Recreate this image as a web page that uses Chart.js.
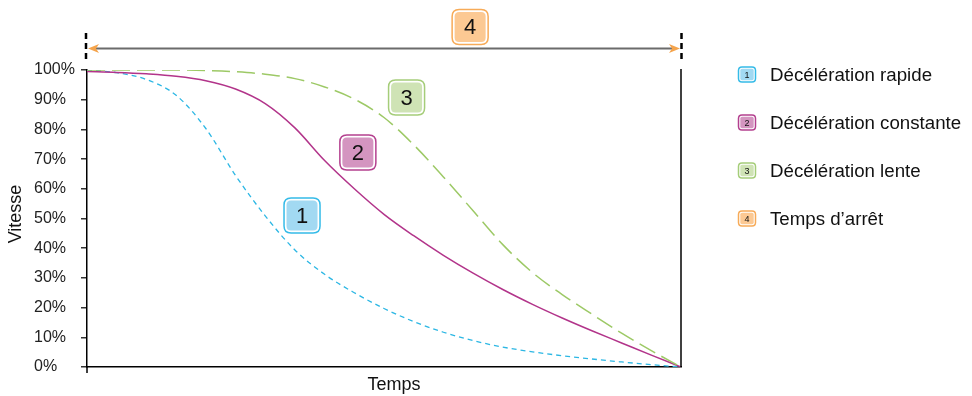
<!DOCTYPE html>
<html>
<head>
<meta charset="utf-8">
<script src="https://cdn.jsdelivr.net/npm/chart.js@4.4.0/dist/chart.umd.min.js"></script>
<style>
html, body { margin: 0; padding: 0; background: #ffffff; }
#wrap { width: 972px; height: 396px; position: relative; }
</style>
</head>
<body>
<div id="wrap"><canvas id="c" width="972" height="396"></canvas></div>
<script>
// ---- Data ----
const timePoints    = [0, 5, 10, 15, 20, 25, 30, 35, 40, 45, 50, 55, 60, 65, 70, 75, 80, 85, 90, 95, 100];
const fastDecel     = [100, 99.1, 96.8, 91.5, 80.3, 64.5, 50.9, 39.4, 31.2, 25.0, 19.7, 15.3, 11.7, 8.9, 6.7, 5.1, 3.8, 2.7, 1.7, 0.8, 0];
const constantDecel = [99.5, 99.2, 98.7, 97.9, 96.4, 93.6, 88.7, 80.5, 69.5, 60.0, 51.4, 44.2, 37.6, 31.6, 26.1, 21.1, 16.5, 12.2, 8.1, 4.0, 0];
const slowDecel     = [100, 100, 100, 100, 99.8, 99.4, 98.6, 97.1, 94.3, 90.2, 84.0, 74.8, 64.0, 52.6, 41.2, 31.8, 24.4, 17.8, 11.4, 5.5, 0];
const yTickValues   = [0, 10, 20, 30, 40, 50, 60, 70, 80, 90, 100];
const seriesNames   = ['Décélération rapide', 'Décélération constante', 'Décélération lente', 'Temps d’arrêt'];
const seriesBadges  = ['1', '2', '3', '4'];
const xAxisTitle    = 'Temps';
const yAxisTitle    = 'Vitesse';
// badge anchor positions in data units (time, speed %)
const badgeTimes    = [36.2, 45.6, 53.8, 64.5];
const badgeSpeeds   = [51, 72.2, 90.7, 114.5];

const lineColors  = ['#2cb7e4', '#b2348a', '#9dc966', '#f5a44c'];
const badgeFills  = ['#a2d9f2', '#d495c0', '#cfe3b5', '#fcc993'];
const badgeBorder = ['#35bbe8', '#b4408f', '#a5cd79', '#f7ab58'];

const FONT = '"Liberation Sans", Arial, Helvetica, sans-serif';
Chart.defaults.font.family = FONT;

function toPoints(xs, ys) { return xs.map((x, i) => ({ x: x, y: ys[i] })); }

function roundRect(ctx, x, y, w, h, r) {
  ctx.beginPath();
  ctx.moveTo(x + r, y);
  ctx.lineTo(x + w - r, y);
  ctx.quadraticCurveTo(x + w, y, x + w, y + r);
  ctx.lineTo(x + w, y + h - r);
  ctx.quadraticCurveTo(x + w, y + h, x + w - r, y + h);
  ctx.lineTo(x + r, y + h);
  ctx.quadraticCurveTo(x, y + h, x, y + h - r);
  ctx.lineTo(x, y + r);
  ctx.quadraticCurveTo(x, y, x + r, y);
  ctx.closePath();
}

function drawBadge(ctx, cx, cy, w, h, r, idx, fontSize, inset) {
  ctx.save();
  roundRect(ctx, cx - w / 2, cy - h / 2, w, h, r);
  ctx.lineWidth = 1.5;
  ctx.strokeStyle = badgeBorder[idx];
  ctx.stroke();
  roundRect(ctx, cx - w / 2 + inset, cy - h / 2 + inset, w - 2 * inset, h - 2 * inset, Math.max(r - inset, 1));
  ctx.fillStyle = badgeFills[idx];
  ctx.fill();
  ctx.fillStyle = '#111';
  ctx.font = fontSize + 'px ' + FONT;
  ctx.textAlign = 'center';
  ctx.textBaseline = 'middle';
  ctx.fillText(seriesBadges[idx], cx, cy + 1);
  ctx.restore();
}

const decorPlugin = {
  id: 'decor',
  afterDraw(chart) {
    const ctx = chart.ctx;
    const a = chart.chartArea;
    const xs = chart.scales.x, ys = chart.scales.y;
    ctx.save();
    // right frame line
    ctx.strokeStyle = '#000';
    ctx.lineWidth = 1.5;
    ctx.beginPath();
    ctx.moveTo(a.right, a.top - 1);
    ctx.lineTo(a.right, a.bottom);
    ctx.stroke();
    // x tick at origin
    ctx.beginPath();
    ctx.moveTo(a.left, a.bottom);
    ctx.lineTo(a.left, a.bottom + 6);
    ctx.stroke();
    // dashed delimiters above chart
    ctx.setLineDash([6, 4]);
    ctx.lineWidth = 2.5;
    [a.left - 1, a.right + 0.5].forEach(px => {
      ctx.beginPath();
      ctx.moveTo(px, 33);
      ctx.lineTo(px, 63);
      ctx.stroke();
    });
    ctx.setLineDash([]);
    // stop-time arrow
    const ay = 48.5;
    ctx.strokeStyle = '#6b6b6b';
    ctx.lineWidth = 1.8;
    ctx.beginPath();
    ctx.moveTo(a.left + 8, ay);
    ctx.lineTo(a.right - 8, ay);
    ctx.stroke();
    ctx.fillStyle = lineColors[3];
    [[a.left + 1, 1], [a.right - 1, -1]].forEach(([tip, dir]) => {
      ctx.beginPath();
      ctx.moveTo(tip, ay);
      ctx.lineTo(tip + dir * 11, ay - 4.5);
      ctx.lineTo(tip + dir * 8, ay);
      ctx.lineTo(tip + dir * 11, ay + 4.5);
      ctx.closePath();
      ctx.fill();
    });
    // annotation badges
    for (let i = 0; i < 4; i++) {
      const cx = xs.getPixelForValue(badgeTimes[i]);
      const cy = ys.getPixelForValue(badgeSpeeds[i]);
      drawBadge(ctx, cx, cy, 36, 35, 7, i, 22, 2.5);
    }
    // legend
    for (let i = 0; i < 4; i++) {
      const ly = 74.5 + 48 * i;
      drawBadge(ctx, 747, ly, 17, 15, 3.5, i, 9, 1.8);
      ctx.fillStyle = '#111';
      ctx.font = '18.7px ' + FONT;
      ctx.textAlign = 'left';
      ctx.textBaseline = 'middle';
      ctx.fillText(seriesNames[i], 770, ly + 1);
    }
    // axis titles
    ctx.fillStyle = '#111';
    ctx.font = '18px ' + FONT;
    ctx.textAlign = 'center';
    ctx.textBaseline = 'middle';
    ctx.fillText(xAxisTitle, 394, 385);
    ctx.translate(16, 214);
    ctx.rotate(-Math.PI / 2);
    ctx.fillText(yAxisTitle, 0, 0);
    ctx.restore();
  }
};

new Chart(document.getElementById('c'), {
  type: 'line',
  data: {
    datasets: [
      { label: seriesNames[2], data: toPoints(timePoints, slowDecel), borderColor: lineColors[2], borderWidth: 1.5, borderDash: [18, 7] },
      { label: seriesNames[1], data: toPoints(timePoints, constantDecel), borderColor: lineColors[1], borderWidth: 1.5 },
      { label: seriesNames[0], data: toPoints(timePoints, fastDecel), borderColor: lineColors[0], borderWidth: 1.3, borderDash: [5, 4] }
    ]
  },
  options: {
    responsive: false,
    animation: false,
    devicePixelRatio: 1,
    layout: { padding: { left: 34, right: 291, top: 70, bottom: 0 } },
    elements: {
      point: { radius: 0, hoverRadius: 0 },
      line: { cubicInterpolationMode: 'monotone', fill: false }
    },
    plugins: { legend: { display: false }, tooltip: { enabled: false } },
    scales: {
      x: {
        type: 'linear', min: 0, max: 100,
        ticks: { display: false },
        grid: { display: false },
        border: { color: '#000', width: 1.5 },
        afterFit(s) { s.height = 29; }
      },
      y: {
        min: 0, max: 100,
        afterBuildTicks(s) { s.ticks = yTickValues.map(v => ({ value: v })); },
        ticks: {
          callback: v => v + '%',
          crossAlign: 'far',
          color: '#222',
          font: { size: 16, family: FONT },
          autoSkip: false
        },
        grid: { drawOnChartArea: false, drawTicks: true, tickLength: 6, color: '#333', lineWidth: 1.5 },
        border: { color: '#000', width: 1.5 },
        afterFit(s) { s.width = 53; }
      }
    }
  },
  plugins: [decorPlugin]
});
</script>
</body>
</html>
